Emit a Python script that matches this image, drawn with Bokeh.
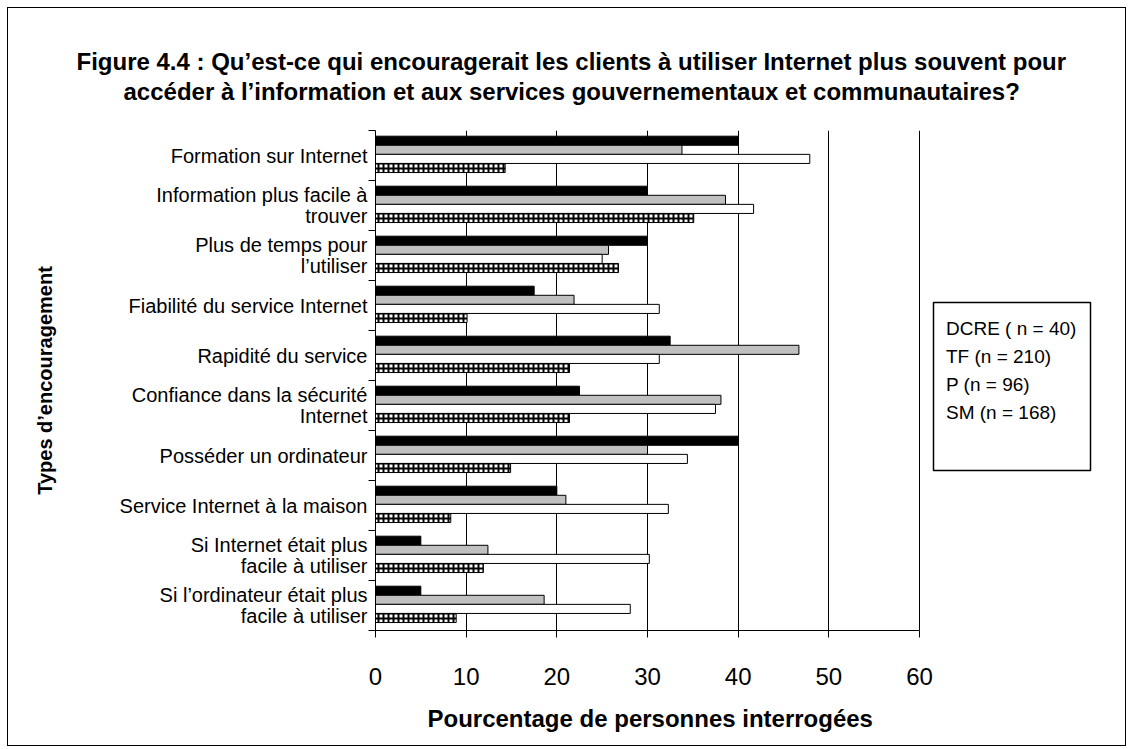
from bokeh.plotting import figure
from bokeh.models import (Range1d, FixedTicker, Legend, LegendItem, Title,
                          BoxAnnotation, ColumnDataSource)
from bokeh.core.properties import value
from bokeh.embed import file_html
from bokeh.resources import INLINE

# ---------------- data ----------------
categories = [
    "Formation sur Internet",
    "Information plus facile à\ntrouver",
    "Plus de temps pour\nl’utiliser",
    "Fiabilité du service Internet",
    "Rapidité du service",
    "Confiance dans la sécurité\nInternet",
    "Posséder un ordinateur",
    "Service Internet à la maison",
    "Si Internet était plus\nfacile à utiliser",
    "Si l’ordinateur était plus\nfacile à utiliser",
]
dcre = [40.0, 30.0, 30.0, 17.5, 32.5, 22.5, 40.0, 20.0, 5.0, 5.0]
tf = [33.8, 38.6, 25.7, 21.9, 46.7, 38.1, 30.0, 21.0, 12.4, 18.6]
p_vals = [47.9, 41.7, 25.0, 31.3, 31.3, 37.5, 34.4, 32.3, 30.2, 28.1]
sm = [14.3, 35.1, 26.8, 10.1, 21.4, 21.4, 14.9, 8.3, 11.9, 8.9]
series_labels = ["DCRE ( n = 40)", "TF (n = 210)", "P (n = 96)", "SM (n = 168)"]
x_ticks = [0, 10, 20, 30, 40, 50, 60]

title_lines = [
    "Figure 4.4 : Qu’est-ce qui encouragerait les clients à utiliser Internet plus souvent pour",
    "accéder à l’information et aux services gouvernementaux et communautaires?",
]
x_title = "Pourcentage de personnes interrogées"
y_title = "Types d’encouragement"

FONT = "Liberation Sans"

# ---------------- layout (canvas px) ----------------
W, H = 1127, 747
FL, FT, FB = 375, 130, 630        # plot frame left / top / bottom
AX_R = 919                        # where the value axis (0-60) ends
FRAME_R = 1124                    # frame extends to the right to hold the legend
x_max = x_ticks[-1] * (FRAME_R - FL) / (AX_R - FL)

n = len(categories)
p = figure(width=W, height=H, output_backend="svg", toolbar_location=None,
           title=None,
           x_range=Range1d(0, x_max), y_range=Range1d(n, 0),
           min_border_left=FL, min_border_right=W - FRAME_R,
           min_border_top=FT, min_border_bottom=H - FB)
p.outline_line_color = None
p.background_fill_color = "white"
p.border_fill_color = None
# outer frame of the whole chart: 1px black line at x=7/1125, y=7/745
p.styles = {"box-shadow": "inset 3px 3px 0 4px white, inset 3px 3px 0 5px black",
            "background-color": "white"}

# x axis
xt = FixedTicker(ticks=x_ticks)
xa = p.xaxis[0]
xa.ticker = xt
xa.bounds = (x_ticks[0], x_ticks[-1])
xa.axis_line_color = "black"
xa.major_tick_line_color = "black"
xa.major_tick_in = 0
xa.major_tick_out = 7
xa.minor_tick_in = 0
xa.minor_tick_out = 0
xa.major_label_text_font = FONT
xa.major_label_text_font_size = "24px"
xa.major_label_text_color = "black"
xa.major_label_standoff = 30

p.xgrid.ticker = xt
p.xgrid.grid_line_color = "black"
p.xgrid.grid_line_width = 1
p.ygrid.visible = False

# y axis: labels centred in each group, tick marks on group boundaries
centers = [i + 0.5 for i in range(n)]
ya = p.yaxis[0]
ya.ticker = FixedTicker(ticks=centers, minor_ticks=list(range(n + 1)))
ya.major_label_overrides = {c: lab for c, lab in zip(centers, categories)}
ya.axis_line_color = "black"
ya.major_tick_in = 0
ya.major_tick_out = 0
ya.minor_tick_in = 0
ya.minor_tick_out = 7
ya.minor_tick_line_color = "black"
ya.major_label_text_font = FONT
ya.major_label_text_font_size = "20px"
ya.major_label_text_color = "black"
ya.major_label_text_line_height = 0.94
ya.major_label_standoff = 1
ya.axis_label = y_title
ya.axis_label_text_font = FONT
ya.axis_label_text_font_style = "bold"
ya.axis_label_text_font_size = "20px"
ya.axis_label_text_color = "black"
ya.axis_label_standoff = 61

# bars
gap_top = 0.114
bar_h = 0.1817
series = [dcre, tf, p_vals, sm]
styles = [
    dict(fill_color="black"),
    dict(fill_color="#c0c0c0"),
    dict(fill_color="white"),
    dict(fill_color="white", hatch_pattern="cross", hatch_scale=5,
         hatch_weight=2, hatch_color="black"),
]
renderers = []
for k, (vals, st) in enumerate(zip(series, styles)):
    ys = [i + gap_top + bar_h * (k + 0.5) for i in range(n)]
    src = ColumnDataSource(dict(y=ys, right=vals, cat=categories))
    r = p.hbar(y="y", left=0, right="right", height=bar_h, source=src,
               line_color="black", line_width=1, **st)
    renderers.append(r)

# legend: text only (no swatches), inside a box right of the bars
legend = Legend(
    items=[LegendItem(label=value(lab), renderers=[]) for lab in series_labels],
    location=(569, 206), glyph_width=1, glyph_height=1, label_height=22,
    label_standoff=1, spacing=6, padding=2, margin=0,
    border_line_color=None, background_fill_alpha=0,
    label_text_font=FONT, label_text_font_size="19px", label_text_color="black",
)
p.add_layout(legend)
p.add_layout(BoxAnnotation(left=933 - FL, right=1090 - FL, top=FB - 302, bottom=FB - 470,
                           left_units="screen", right_units="screen",
                           top_units="screen", bottom_units="screen",
                           fill_color=None, fill_alpha=0, line_color="black",
                           line_alpha=1, line_width=1.5, line_dash="solid"))

# chart title: two centred lines (stacked upward from the plot)
TKW = dict(align="left", text_font=FONT, text_font_style="bold",
           text_font_size="24px", text_color="black")
spacer = Title(text=" ", standoff=12, align="left", text_font=FONT, text_font_size="10px")
t2 = Title(text=title_lines[1], offset=-252, standoff=1, **TKW)
t1 = Title(text=title_lines[0], offset=-299, standoff=1, **TKW)
p.add_layout(spacer, "above")
p.add_layout(t2, "above")
p.add_layout(t1, "above")

# x-axis title, centred under the 0-60 axis
p.add_layout(Title(text=x_title, offset=52, standoff=30, **TKW), "below")

open("out.html", "w").write(file_html(p, INLINE))
